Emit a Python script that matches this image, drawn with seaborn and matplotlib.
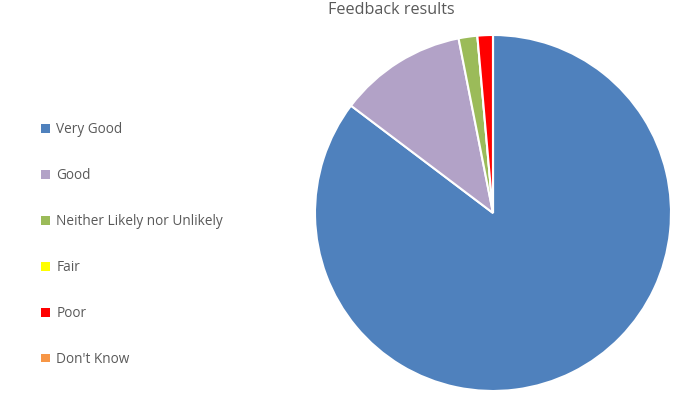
import matplotlib
matplotlib.use("Agg")
import matplotlib.pyplot as plt
import seaborn as sns
from matplotlib.patches import Patch

categories = ["Very Good", "Good", "Neither Likely nor Unlikely", "Fair", "Poor", "Don't Know"]
values = [85.3, 11.6, 1.7, 0.0, 1.4, 0.0]
colors = ["#4f81bd", "#b2a2c7", "#9bbb59", "#ffff00", "#ff0000", "#f79646"]
title = "Feedback results"

sns.set_theme(style="white")
plt.rcParams["font.family"] = ["Open Sans", "DejaVu Sans"]

fig = plt.figure(figsize=(6.82, 3.97), dpi=100)
ax = fig.add_axes([(493 - 178) / 682, (184 - 178) / 397, 356 / 682, 356 / 397])
ax.pie(values, colors=colors, startangle=90, counterclock=False,
       wedgeprops=dict(edgecolor="white", linewidth=1.5), radius=1)
ax.set_xlim(-1, 1)
ax.set_ylim(-1, 1)
ax.set_aspect("equal")
ax.axis("off")

fig.text(391 / 682, 1 - 10 / 397, title, ha="center", va="center",
         fontsize=11.6, color="#595959")

handles = [Patch(facecolor=c, edgecolor="none") for c in colors]
fig.legend(handles, categories, loc="upper left", bbox_to_anchor=(36 / 682, 1 - 117 / 397),
           frameon=False, fontsize=9.8, labelcolor="#595959", handlelength=0.6,
           handleheight=0.6, handletextpad=0.5, labelspacing=2.27, borderaxespad=0)

fig.savefig("out.png", dpi=100, facecolor="white")
